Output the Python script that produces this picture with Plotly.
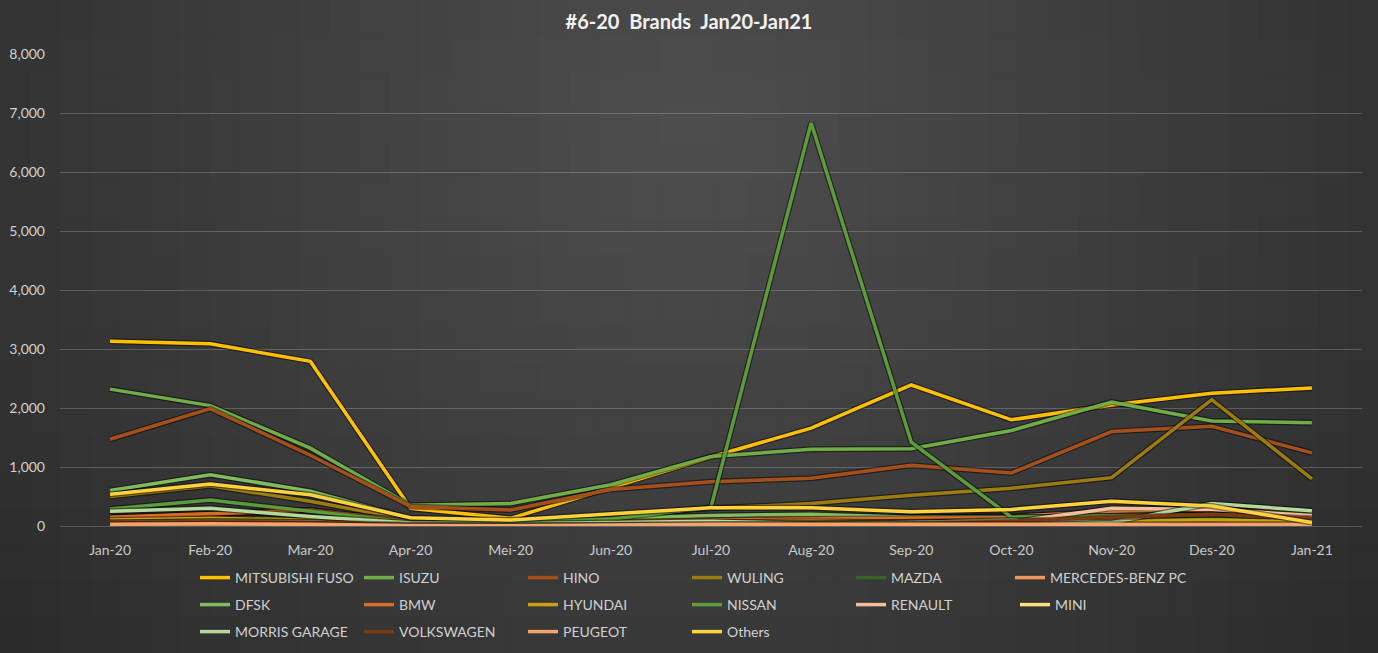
import math
import plotly.graph_objects as go

months = ["Jan-20", "Feb-20", "Mar-20", "Apr-20", "Mei-20", "Jun-20", "Jul-20",
          "Aug-20", "Sep-20", "Oct-20", "Nov-20", "Des-20", "Jan-21"]

mitsubishi_fuso = [3130, 3090, 2790, 300, 130, 650, 1170, 1660, 2390, 1800, 2050, 2250, 2340]
isuzu = [2320, 2040, 1320, 350, 380, 700, 1180, 1300, 1310, 1620, 2100, 1780, 1750]
hino = [1470, 1990, 1200, 330, 270, 620, 750, 810, 1030, 900, 1600, 1690, 1240]
wuling = [500, 680, 420, 100, 90, 180, 300, 380, 520, 640, 820, 2140, 800]
mazda = [110, 150, 120, 40, 30, 60, 80, 110, 140, 170, 200, 230, 260]
mercedes_benz_pc = [140, 200, 270, 60, 50, 90, 120, 140, 150, 160, 250, 270, 220]
dfsk = [600, 870, 590, 130, 70, 120, 180, 200, 150, 150, 130, 130, 170]
bmw = [150, 210, 270, 80, 40, 70, 100, 120, 130, 140, 180, 200, 120]
hyundai = [100, 130, 100, 30, 20, 50, 60, 80, 60, 80, 90, 100, 80]
nissan = [290, 440, 250, 60, 60, 120, 320, 6830, 1420, 150, 170, 190, 230]
renault = [60, 80, 70, 20, 10, 30, 40, 50, 60, 70, 300, 280, 180]
mini = [20, 30, 20, 5, 5, 10, 10, 20, 20, 20, 20, 20, 15]
morris_garage = [250, 300, 160, 50, 40, 60, 80, 40, 60, 100, 60, 380, 260]
volkswagen = [60, 80, 60, 20, 10, 20, 30, 30, 40, 80, 150, 200, 130]
peugeot = [30, 40, 30, 10, 5, 20, 30, 30, 30, 40, 40, 40, 30]
others = [540, 710, 530, 140, 100, 210, 310, 310, 240, 280, 420, 340, 60]

series = [
    ("MITSUBISHI FUSO", mitsubishi_fuso, "#FFC000"),
    ("ISUZU", isuzu, "#70AD47"),
    ("HINO", hino, "#A5501B"),
    ("WULING", wuling, "#9C7C0E"),
    ("MAZDA", mazda, "#3B6323"),
    ("MERCEDES-BENZ PC", mercedes_benz_pc, "#F1975A"),
    ("DFSK", dfsk, "#82BA5E"),
    ("BMW", bmw, "#D86B27"),
    ("HYUNDAI", hyundai, "#C9A010"),
    ("NISSAN", nissan, "#5B9B3A"),
    ("RENAULT", renault, "#F4BE9A"),
    ("MINI", mini, "#FFE07A"),
    ("MORRIS GARAGE", morris_garage, "#B5D99C"),
    ("VOLKSWAGEN", volkswagen, "#7A3A10"),
    ("PEUGEOT", peugeot, "#F4A46A"),
    ("Others", others, "#FFD33D"),
]

# legend assignment: row 1 (5 items + separate legend for the long last one), rows 2 and 3
legend_of = ["legend"] * 5 + ["legend4"] + ["legend2"] * 6 + ["legend3"] * 4

fig = go.Figure()

W, H = 1378, 653
L, R, T, B = 60, 16, 54, 127
pw, ph = W - L - R, H - T - B

# background radial-ish gradient
shapes = []
ncols, nrows = 46, 18
for i in range(ncols):
    for j in range(nrows):
        cx = (i + 0.5) / ncols
        cy = (j + 0.5) / nrows  # 0 = top
        d = math.sqrt(((cx - 0.5) / 0.68) ** 2 + ((cy - 0.2) / 1.3) ** 2)
        v = int(round(41 + 37 * max(0.0, 1 - d)))
        col = f"rgb({v},{v},{v})"
        px0 = i * W / ncols
        px1 = (i + 1) * W / ncols + 1
        py0 = j * H / nrows
        py1 = (j + 1) * H / nrows + 1
        shapes.append(dict(type="rect", xref="paper", yref="paper",
                           x0=(px0 - L) / pw, x1=(px1 - L) / pw,
                           y0=1 - (py1 - T) / ph, y1=1 - (py0 - T) / ph,
                           fillcolor=col, line=dict(width=0), layer="below"))

for idx, (name, vals, color) in enumerate(series):
    fig.add_trace(go.Scatter(x=months, y=vals, mode="lines", showlegend=False,
                             hoverinfo="skip",
                             line=dict(color="rgba(0,0,0,0.45)", width=6)))
    fig.add_trace(go.Scatter(x=months, y=vals, mode="lines", name=name,
                             legend=legend_of[idx],
                             line=dict(color=color, width=3.5)))

LX = 195
legend_common = dict(orientation="h", xref="container", yref="container",
                     x=LX / W, xanchor="left", yanchor="middle",
                     entrywidth=119, entrywidthmode="pixels", itemwidth=30,
                     bgcolor="rgba(0,0,0,0)", traceorder="normal",
                     font=dict(family="Lato", size=14, color="#d0d0d0"))

fig.update_layout(
    width=W, height=H,
    margin=dict(l=L, r=R, t=T, b=B, autoexpand=False),
    paper_bgcolor="#3a3a3a", plot_bgcolor="rgba(0,0,0,0)",
    shapes=shapes,
    title=dict(text="#6-20\u00a0 Brands\u00a0 Jan20-Jan21", x=0.5, xanchor="center",
               y=1 - 22 / H, yanchor="middle",
               font=dict(family="Lato", size=20, color="#f2f2f2", weight="bold")),
    xaxis=dict(type="category", range=[-0.5, 12.5], showgrid=False, zeroline=False,
               showline=False, ticks="", tickfont=dict(family="Lato", size=14, color="#c8c8c8"),
               ticklabelstandoff=14),
    yaxis=dict(range=[0, 8000], dtick=1000, tickformat=",", showgrid=True,
               gridcolor="rgba(255,255,255,0.2)", gridwidth=1, zeroline=True,
               zerolinecolor="rgba(255,255,255,0.2)", zerolinewidth=1,
               showline=False, ticks="", ticklabelstandoff=14,
               tickfont=dict(family="Lato", size=14, color="#d0d0d0")),
    legend=dict(legend_common, y=1 - 578 / H),
    legend2=dict(legend_common, y=1 - 605 / H),
    legend3=dict(legend_common, y=1 - 632 / H),
    legend4=dict(legend_common, x=(LX + 5 * 163) / W, y=1 - 578 / H, entrywidth=160),
    hovermode=False,
)

fig.write_html("out.html", config={"displayModeBar": False},
               post_script="document.body.style.margin='0';document.body.style.overflow='hidden';")
